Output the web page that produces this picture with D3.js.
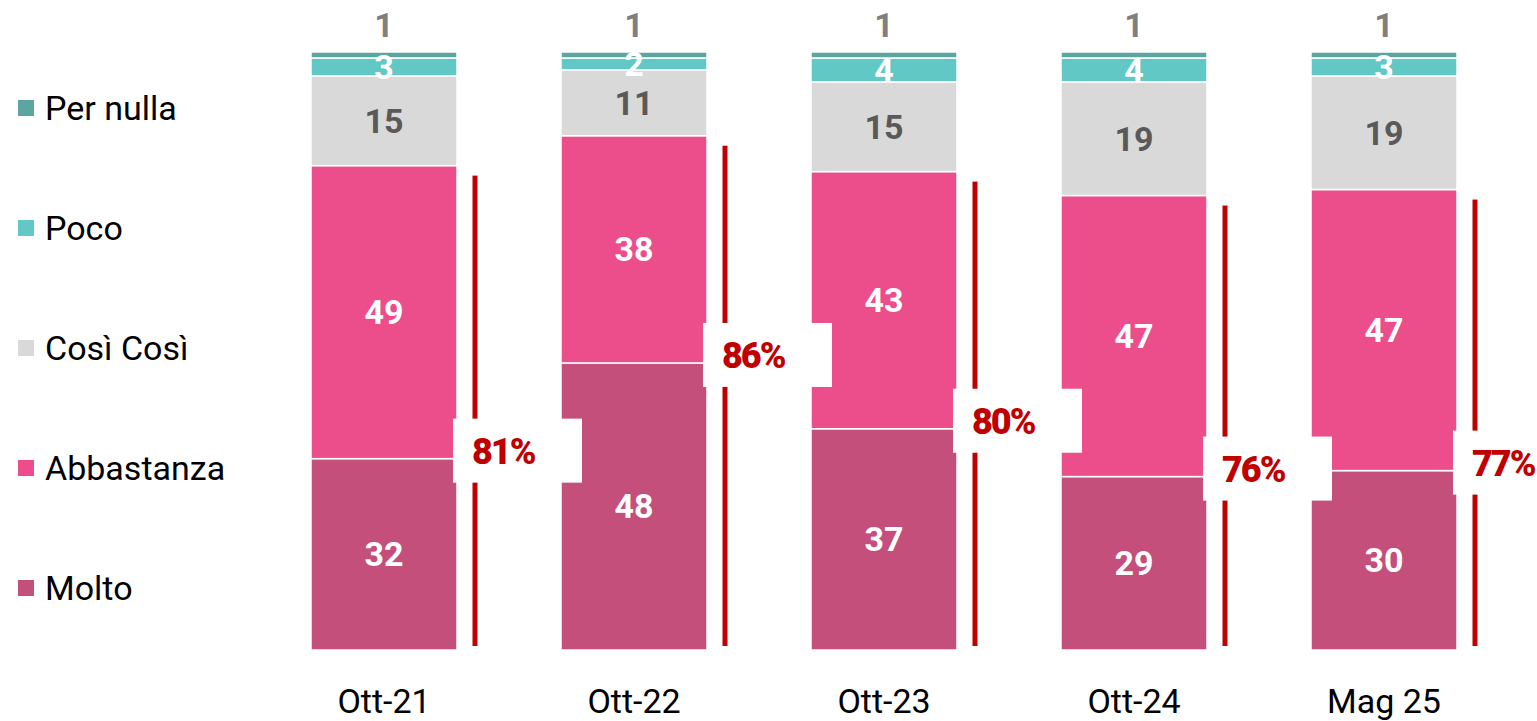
<!DOCTYPE html>
<html>
<head>
<meta charset="utf-8">
<script src="https://cdn.jsdelivr.net/npm/d3@7"></script>
<style>
  body { margin: 0; background: #fff; }
  svg { display: block; font-family: Roboto, "Noto Sans", sans-serif; }
</style>
</head>
<body>
<div id="chart"></div>
<script>
// Stacked 100% bars with "Molto + Abbastanza" totals
(function() {
    const width = 1537;
    const height = 721;

    const periods = ['Ott-21', 'Ott-22', 'Ott-23', 'Ott-24', 'Mag 25'];
    const categories = ['Molto', 'Abbastanza', 'Così Così', 'Poco', 'Per nulla'];
    const molto = [32, 48, 37, 29, 30];
    const abbastanza = [49, 38, 43, 47, 47];
    const cosiCosi = [15, 11, 15, 19, 19];
    const poco = [3, 2, 4, 4, 3];
    const perNulla = [1, 1, 1, 1, 1];
    const totals = ['81%', '86%', '80%', '76%', '77%'];

    const colors = {
        'Molto': '#c44f7b',
        'Abbastanza': '#ec4d8b',
        'Così Così': '#d9d9d9',
        'Poco': '#62c8c5',
        'Per nulla': '#5ba6a3'
    };
    const labelColors = {
        'Molto': '#ffffff',
        'Abbastanza': '#ffffff',
        'Così Così': '#595959',
        'Poco': '#ffffff',
        'Per nulla': '#7f7f7f'
    };

    const rows = periods.map((p, i) => ({
        period: p,
        'Molto': molto[i],
        'Abbastanza': abbastanza[i],
        'Così Così': cosiCosi[i],
        'Poco': poco[i],
        'Per nulla': perNulla[i],
        total: totals[i]
    }));

    const stack = d3.stack().keys(categories)(rows);

    const x = d3.scaleBand()
        .domain(periods)
        .range([259, 1509])
        .paddingInner(0.416)
        .paddingOuter(0.208);

    const y = d3.scaleLinear()
        .domain([0, 100])
        .range([650, 52]);

    const svg = d3.select('#chart')
        .append('svg')
        .attr('width', width)
        .attr('height', height);

    // bars
    const layers = svg.append('g')
        .selectAll('g')
        .data(stack)
        .enter()
        .append('g')
        .attr('fill', d => colors[d.key]);

    layers.selectAll('rect')
        .data(d => d)
        .enter()
        .append('rect')
        .attr('x', d => x(d.data.period))
        .attr('y', d => y(d[1]))
        .attr('width', x.bandwidth())
        .attr('height', d => y(d[0]) - y(d[1]))
        .attr('stroke', '#fff')
        .attr('stroke-width', 1.5);

    // segment labels
    stack.forEach(layer => {
        svg.append('g')
            .selectAll('text')
            .data(layer)
            .enter()
            .append('text')
            .attr('x', d => x(d.data.period) + x.bandwidth() / 2)
            .attr('y', d => layer.key === 'Per nulla'
                ? y(d[1]) - 15
                : (y(d[0]) + y(d[1])) / 2 + 12)
            .attr('text-anchor', 'middle')
            .attr('fill', labelColors[layer.key])
            .attr('font-size', '34px')
            .attr('font-weight', 'bold')
            .text(d => d.data[layer.key]);
    });

    // red bracket lines
    const lineX = d => x(d.period) + x.bandwidth() + 18;
    svg.append('g')
        .selectAll('rect')
        .data(rows)
        .enter()
        .append('rect')
        .attr('x', d => lineX(d) - 2.5)
        .attr('y', d => y(d['Molto'] + d['Abbastanza']) + 10)
        .attr('width', 5)
        .attr('height', d => y(0) - 4 - (y(d['Molto'] + d['Abbastanza']) + 10))
        .attr('fill', '#c00000');

    // total boxes
    const boxes = svg.append('g')
        .selectAll('g')
        .data(rows)
        .enter()
        .append('g')
        .attr('transform', d => `translate(${lineX(d) - 22},${y(d['Molto']) - 8 - 32})`);

    boxes.append('rect')
        .attr('width', 129)
        .attr('height', 64)
        .attr('fill', '#fff');

    boxes.append('text')
        .attr('x', 19)
        .attr('y', 45)
        .attr('fill', '#c00000')
        .attr('font-size', '36px')
        .attr('font-weight', 900)
        .attr('letter-spacing', '-2px')
        .text(d => d.total);

    // x axis
    const xAxis = svg.append('g')
        .attr('transform', `translate(0,${y(0)})`)
        .call(d3.axisBottom(x).tickSize(0).tickPadding(39));
    xAxis.select('.domain').remove();
    xAxis.selectAll('text')
        .attr('font-size', '34px')
        .attr('font-family', 'Roboto, sans-serif')
        .attr('fill', '#000');

    // legend
    const legendItems = categories.slice().reverse();
    const legendY = d3.scalePoint()
        .domain(legendItems)
        .range([108, 588]);

    const legend = svg.append('g')
        .selectAll('g')
        .data(legendItems)
        .enter()
        .append('g')
        .attr('transform', d => `translate(0,${legendY(d)})`);

    legend.append('rect')
        .attr('x', 18)
        .attr('y', -8)
        .attr('width', 16)
        .attr('height', 16)
        .attr('fill', d => colors[d]);

    legend.append('text')
        .attr('x', 45)
        .attr('y', 12)
        .attr('font-size', '34px')
        .attr('fill', '#000')
        .text(d => d);
})();
</script>
</body>
</html>
